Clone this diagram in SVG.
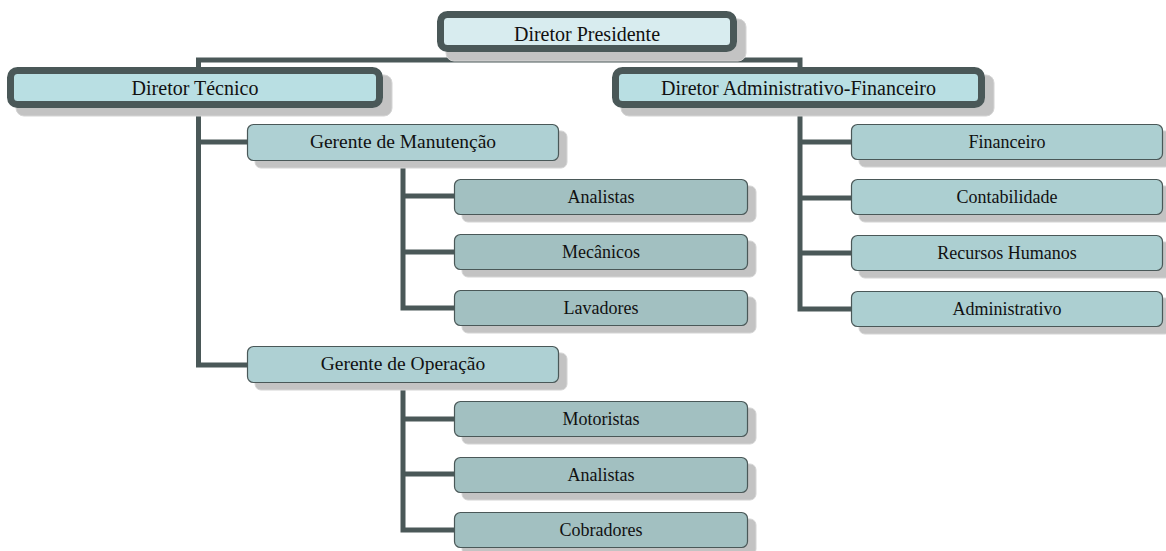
<svg xmlns="http://www.w3.org/2000/svg" width="1166" height="551" viewBox="0 0 1166 551">
  <style>
    .wire { fill: none; stroke: #4a5858; stroke-width: 5; stroke-linecap: butt; stroke-linejoin: miter; }
    .shadow { fill: #c3c3c3; stroke: #d4d4d4; stroke-width: 1; }
    .head { stroke: #4a5858; stroke-width: 7; }
    .top { fill: #d8ecef; }
    .dir { fill: #b9dfe3; }
    .mgr { fill: #aed0d3; stroke: #4a5858; stroke-width: 1.2; }
    .leaf { fill: #a2c0c1; stroke: #4a5858; stroke-width: 1.2; }
    .leaf2 { fill: #accfd1; stroke: #4a5858; stroke-width: 1.2; }
    text { font-family: "Liberation Serif", "Times New Roman", serif; fill: #111; text-anchor: middle; }
    .t1 { font-size: 20px; }
    .t2 { font-size: 19.5px; }
    .t3 { font-size: 18px; }
  </style>

  <!-- connectors -->
  <g id="connectors">
    <path class="wire" d="M587 52 V60"/>
    <path class="wire" d="M198.5 67 V60 H800 V67"/>
    <!-- Diretor Técnico branch -->
    <path class="wire" d="M198.5 108 V365 H247"/>
    <path class="wire" d="M198.5 142 H247"/>
    <!-- Gerente de Manutenção branch -->
    <path class="wire" d="M403 161 V308 H454"/>
    <path class="wire" d="M403 196 H454"/>
    <path class="wire" d="M403 252 H454"/>
    <!-- Gerente de Operação branch -->
    <path class="wire" d="M403 383 V530 H454"/>
    <path class="wire" d="M403 419 H454"/>
    <path class="wire" d="M403 474 H454"/>
    <!-- Diretor Administrativo-Financeiro branch -->
    <path class="wire" d="M800 108 V309 H851"/>
    <path class="wire" d="M800 142 H851"/>
    <path class="wire" d="M800 198 H851"/>
    <path class="wire" d="M800 253 H851"/>
  </g>

  <!-- top level -->
  <g id="diretor-presidente">
    <rect class="shadow" x="446" y="19" width="300" height="42" rx="8"/>
    <rect class="head top" x="440.5" y="14.5" width="293" height="34" rx="7"/>
    <text class="t1" x="587" y="41">Diretor Presidente</text>
  </g>

  <g id="diretor-tecnico">
    <rect class="shadow" x="16" y="75" width="376" height="41" rx="8"/>
    <rect class="head dir" x="10.5" y="70.5" width="369" height="34" rx="7"/>
    <text class="t1" x="195" y="95">Diretor Técnico</text>
  </g>

  <g id="diretor-adm-fin">
    <rect class="shadow" x="621" y="75" width="373" height="41" rx="8"/>
    <rect class="head dir" x="615.5" y="70.5" width="366" height="34" rx="7"/>
    <text class="t1" x="798.5" y="95">Diretor Administrativo-Financeiro</text>
  </g>

  <!-- managers -->
  <g id="gerente-manutencao">
    <rect class="shadow" x="255" y="131" width="312" height="37" rx="6"/>
    <rect class="mgr" x="247.5" y="124.5" width="311" height="36" rx="6"/>
    <text class="t2" x="403" y="148">Gerente de Manutenção</text>
  </g>

  <g id="gerente-operacao">
    <rect class="shadow" x="255" y="353" width="312" height="37" rx="6"/>
    <rect class="mgr" x="247.5" y="346.5" width="311" height="36" rx="6"/>
    <text class="t2" x="403" y="370">Gerente de Operação</text>
  </g>

  <!-- maintenance staff -->
  <g id="manut-analistas">
    <rect class="shadow" x="462" y="186" width="294" height="36" rx="6"/>
    <rect class="leaf" x="454.5" y="179.5" width="293" height="35" rx="6"/>
    <text class="t3" x="601" y="203">Analistas</text>
  </g>
  <g id="manut-mecanicos">
    <rect class="shadow" x="462" y="241" width="294" height="36" rx="6"/>
    <rect class="leaf" x="454.5" y="234.5" width="293" height="35" rx="6"/>
    <text class="t3" x="601" y="258">Mecânicos</text>
  </g>
  <g id="manut-lavadores">
    <rect class="shadow" x="462" y="297" width="294" height="36" rx="6"/>
    <rect class="leaf" x="454.5" y="290.5" width="293" height="35" rx="6"/>
    <text class="t3" x="601" y="314">Lavadores</text>
  </g>

  <!-- operation staff -->
  <g id="oper-motoristas">
    <rect class="shadow" x="462" y="408" width="294" height="36" rx="6"/>
    <rect class="leaf" x="454.5" y="401.5" width="293" height="35" rx="6"/>
    <text class="t3" x="601" y="425">Motoristas</text>
  </g>
  <g id="oper-analistas">
    <rect class="shadow" x="462" y="464" width="294" height="36" rx="6"/>
    <rect class="leaf" x="454.5" y="457.5" width="293" height="35" rx="6"/>
    <text class="t3" x="601" y="481">Analistas</text>
  </g>
  <g id="oper-cobradores">
    <rect class="shadow" x="462" y="519" width="294" height="36" rx="6"/>
    <rect class="leaf" x="454.5" y="512.5" width="293" height="35" rx="6"/>
    <text class="t3" x="601" y="536">Cobradores</text>
  </g>

  <!-- administrative departments -->
  <g id="adm-financeiro">
    <rect class="shadow" x="859" y="131" width="312" height="36" rx="6"/>
    <rect class="leaf2" x="851.5" y="124.5" width="311" height="35" rx="6"/>
    <text class="t3" x="1007" y="148">Financeiro</text>
  </g>
  <g id="adm-contabilidade">
    <rect class="shadow" x="859" y="186" width="312" height="36" rx="6"/>
    <rect class="leaf2" x="851.5" y="179.5" width="311" height="35" rx="6"/>
    <text class="t3" x="1007" y="203">Contabilidade</text>
  </g>
  <g id="adm-rh">
    <rect class="shadow" x="859" y="242" width="312" height="36" rx="6"/>
    <rect class="leaf2" x="851.5" y="235.5" width="311" height="35" rx="6"/>
    <text class="t3" x="1007" y="259">Recursos Humanos</text>
  </g>
  <g id="adm-administrativo">
    <rect class="shadow" x="859" y="298" width="312" height="36" rx="6"/>
    <rect class="leaf2" x="851.5" y="291.5" width="311" height="35" rx="6"/>
    <text class="t3" x="1007" y="315">Administrativo</text>
  </g>
</svg>
